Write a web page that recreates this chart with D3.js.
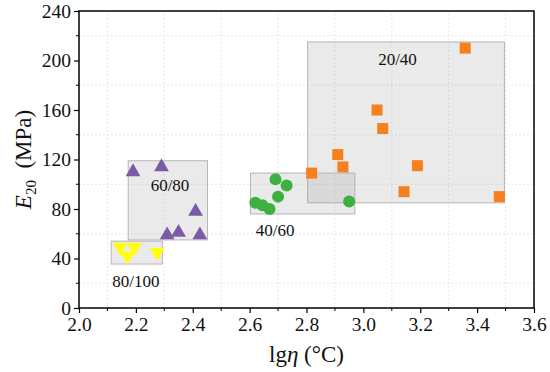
<!DOCTYPE html>
<html>
<head>
<meta charset="utf-8">
<script src="https://cdn.jsdelivr.net/npm/d3@7"></script>
<style>
  body { margin: 0; background: #fff; }
</style>
</head>
<body>
<svg id="chart" width="550" height="372" font-family="Liberation Serif"></svg>
<script>
const width = 550;
const height = 372;
const margin = { top: 11, right: 16, bottom: 64, left: 79 };
const serif = "'Liberation Serif'";

// data: [lgη, E20]
const grade2040 = [[2.818, 109], [2.91, 124], [2.928, 114], [3.048, 160], [3.068, 145],
                   [3.19, 115], [3.358, 210], [3.143, 94], [3.478, 90]];
const grade4060 = [[2.691, 104], [2.73, 99], [2.70, 90], [2.62, 85], [2.645, 83],
                   [2.67, 80], [2.95, 86]];
const grade6080 = [[2.19, 110], [2.29, 114], [2.31, 59], [2.35, 61], [2.41, 78], [2.425, 59]];
const grade80100 = [[2.145, 49], [2.17, 42], [2.195, 49], [2.275, 45]];

// shaded ranges: [x0, x1, y0, y1]
const boxes = [
  { name: "20/40", r: [2.804, 3.496, 85, 215], lx: 3.12, ly: 201 },
  { name: "40/60", r: [2.603, 2.97, 76, 109], lx: 2.69, ly: 63 },
  { name: "60/80", r: [2.173, 2.452, 55, 119], lx: 2.32, ly: 99 },
  { name: "80/100", r: [2.113, 2.293, 35.5, 54], lx: 2.2, ly: 22 }
];

const xTicks = [2.0, 2.2, 2.4, 2.6, 2.8, 3.0, 3.2, 3.4, 3.6];
const yTicks = [0, 40, 80, 120, 160, 200, 240];

const svg = d3.select("#chart");

const x = d3.scaleLinear().domain([2.0, 3.6]).range([margin.left, width - margin.right]);
const y = d3.scaleLinear().domain([0, 240]).range([height - margin.bottom, margin.top]);

// grid at the minor positions
const gx = d3.range(2.1, 3.6, 0.2);
const gy = d3.range(20, 240, 40);
svg.append("g").selectAll("line").data(gx).join("line")
    .attr("x1", d => x(d)).attr("x2", d => x(d))
    .attr("y1", y(0)).attr("y2", y(240))
    .attr("stroke", "#e2e2e2").attr("stroke-dasharray", "2,2").attr("stroke-width", 0.8);
svg.append("g").selectAll("line").data(gy).join("line")
    .attr("y1", d => y(d)).attr("y2", d => y(d))
    .attr("x1", x(2)).attr("x2", x(3.6))
    .attr("stroke", "#e2e2e2").attr("stroke-dasharray", "2,2").attr("stroke-width", 0.8);

// shaded boxes
svg.append("g").selectAll("rect").data(boxes).join("rect")
    .attr("x", d => x(d.r[0]))
    .attr("y", d => y(d.r[3]))
    .attr("width", d => x(d.r[1]) - x(d.r[0]))
    .attr("height", d => y(d.r[2]) - y(d.r[3]))
    .attr("fill", "rgba(150,150,150,0.2)")
    .attr("stroke", "#b5b5b5")
    .attr("stroke-width", 1);

svg.append("g").selectAll("text").data(boxes).join("text")
    .attr("x", d => x(d.lx))
    .attr("y", d => y(d.ly) + 6)
    .attr("text-anchor", "middle")
    .attr("fill", "#111")
    .style("font-size", "17px")
    .text(d => d.name);

// points
const pts = svg.append("g");
pts.selectAll(".sq").data(grade2040).join("rect")
    .attr("x", d => x(d[0]) - 5.5).attr("y", d => y(d[1]) - 5.5)
    .attr("width", 11).attr("height", 11)
    .attr("fill", "#f7801e");
pts.selectAll(".ci").data(grade4060).join("circle")
    .attr("cx", d => x(d[0])).attr("cy", d => y(d[1]))
    .attr("r", 6)
    .attr("fill", "#3cb13f");
const tri = d3.symbol().type(d3.symbolTriangle).size(95);
pts.selectAll(".tr").data(grade6080).join("path")
    .attr("d", tri)
    .attr("transform", d => `translate(${x(d[0])},${y(d[1])})`)
    .attr("fill", "#7d5aa8");
pts.selectAll(".it").data(grade80100).join("path")
    .attr("d", tri)
    .attr("transform", d => `translate(${x(d[0])},${y(d[1])}) rotate(180)`)
    .attr("fill", "#ffff0a");

// axes
const xAxis = d3.axisBottom(x).tickValues(xTicks).tickFormat(d3.format(".1f")).tickSize(5).tickPadding(4);
const yAxis = d3.axisLeft(y).tickValues(yTicks).tickFormat(d3.format("d")).tickSize(5).tickPadding(3);

const gX = svg.append("g").attr("transform", `translate(0,${y(0)})`).call(xAxis);
const gY = svg.append("g").attr("transform", `translate(${x(2)},0)`).call(yAxis);
[gX, gY].forEach(g => {
  g.attr("font-family", null).attr("font-size", null);
  g.select(".domain").remove();
  g.selectAll("line").attr("stroke", "#000").attr("stroke-width", 1.2);
  g.selectAll("text").attr("fill", "#111").style("font-size", "19.5px");
});

// minor ticks
svg.append("g").selectAll("line").data(gx).join("line")
    .attr("x1", d => x(d)).attr("x2", d => x(d))
    .attr("y1", y(0)).attr("y2", y(0) + 3)
    .attr("stroke", "#000");
svg.append("g").selectAll("line").data(gy).join("line")
    .attr("y1", d => y(d)).attr("y2", d => y(d))
    .attr("x1", x(2)).attr("x2", x(2) - 3)
    .attr("stroke", "#000");

// frame
svg.append("rect")
    .attr("x", x(2)).attr("y", y(240))
    .attr("width", x(3.6) - x(2)).attr("height", y(0) - y(240))
    .attr("fill", "none").attr("stroke", "#000").attr("stroke-width", 1.5);

// axis titles
const xt = svg.append("text")
    .attr("x", (x(2) + x(3.6)) / 2)
    .attr("y", 362)
    .attr("text-anchor", "middle")
    .attr("fill", "#111")
    .style("font-size", "23px");
xt.append("tspan").text("lg");
xt.append("tspan").style("font-style", "italic").text("η");
xt.append("tspan").text(" (°C)");

const yt = svg.append("text")
    .attr("transform", `translate(31,${(y(0) + y(240)) / 2}) rotate(-90)`)
    .attr("text-anchor", "middle")
    .attr("fill", "#111")
    .style("font-size", "23px");
yt.append("tspan").style("font-style", "italic").text("E");
yt.append("tspan").attr("dy", 5).style("font-size", "15px").text("20");
yt.append("tspan").attr("dy", -5).text("\u00a0\u00a0(MPa)");

svg.selectAll("text").style("font-family", serif);
</script>
</body>
</html>
